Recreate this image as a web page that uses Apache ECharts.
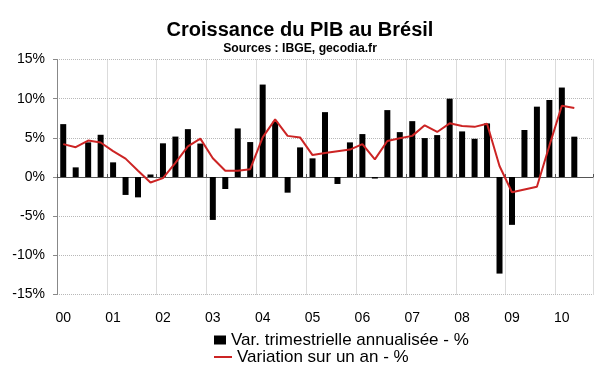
<!DOCTYPE html>
<html>
<head>
<meta charset="utf-8">
<script src="https://cdn.jsdelivr.net/npm/echarts@6/dist/echarts.min.js"></script>
<style>html,body{margin:0;padding:0;background:#fff;}#c{width:600px;height:372px;}</style>
</head>
<body>
<div id="c"></div>
<script>
// Quarterly categories, 2000 T1 .. 2010 T3 (last slot empty)
var categories = [];
for (var y = 0; y <= 10; y++) {
  for (var q = 1; q <= 4; q++) {
    if (y === 10 && q === 4) break;
    categories.push((y < 10 ? '0' : '') + y + ' T' + q);
  }
}
var yearLabels = ['00','01','02','03','04','05','06','07','08','09','10'];

// Var. trimestrielle annualisée - %
var quarterlyAnnualized = [
  6.75, 1.23, 4.42, 5.39, 1.87, -2.29, -2.6, 0.32,
  4.3, 5.16, 6.11, 4.27, -5.48, -1.53, 6.2, 4.46,
  11.8, 7.05, -2.0, 3.78, 2.38, 8.28, -0.89, 4.42,
  5.48, -0.2, 8.54, 5.73, 7.13, 4.97, 5.35, 10.0,
  5.82, 4.88, 6.84, -12.33, -6.11, 6.0, 8.98, 9.83,
  11.42, 5.15, null
];
// Variation sur un an - %
var yearOnYear = [
  4.2, 3.8, 4.65, 4.4, 3.3, 2.35, 0.8, -0.7,
  -0.15, 1.8, 3.9, 4.9, 2.4, 0.8, 0.8, 1.0,
  5.05, 7.35, 5.25, 5.05, 2.8, 3.05, 3.3, 3.5,
  4.2, 2.25, 4.6, 4.95, 5.25, 6.6, 5.75, 6.85,
  6.5, 6.4, 6.8, 1.4, -1.95, -1.6, -1.25, 4.0,
  9.1, 8.8, null
];
var yTicks = [-15, -10, -5, 0, 5, 10, 15];

var FONT = '"Liberation Sans", Arial, sans-serif';
var chart = echarts.init(document.getElementById('c'));
chart.setOption({
  backgroundColor: '#fff',
  animation: false,
  textStyle: { fontFamily: FONT },
  title: [
    { text: 'Croissance du PIB au Brésil', left: 'center', top: 15,
      textStyle: { fontFamily: FONT, fontSize: 20, fontWeight: 'bold', color: '#000' } },
    { text: 'Sources : IBGE, gecodia.fr', left: 'center', top: 38,
      textStyle: { fontFamily: FONT, fontSize: 12.2, fontWeight: 'bold', color: '#000' } }
  ],
  legend: [
    { data: [{ name: 'Var. trimestrielle annualisée - %', icon: 'rect' }],
      left: 214, top: 331.5, itemWidth: 12, itemHeight: 9, padding: 0,
      textStyle: { fontFamily: FONT, fontSize: 17, color: '#000' } },
    { data: [{ name: 'Variation sur un an - %', icon: 'rect' }],
      left: 214, top: 348.5, itemWidth: 18, itemHeight: 2, padding: 0,
      textStyle: { fontFamily: FONT, fontSize: 17, color: '#000' } }
  ],
  grid: { left: 57, right: 7, top: 59.5, bottom: 77.5, containLabel: false },
  xAxis: [
    { type: 'category', data: categories, boundaryGap: true, position: 'bottom',
      axisLine: { show: false, onZero: false },
      axisTick: { show: false },
      axisLabel: { interval: 3, margin: 17, fontSize: 14, color: '#000', fontFamily: FONT,
        formatter: function (v, i) { return yearLabels[Math.floor(i / 4)]; } },
      splitLine: { show: true, interval: 3, lineStyle: { color: '#b8b8b8', type: 'dotted', width: 1 } } },
    { type: 'category', data: categories, boundaryGap: true, position: 'top',
      axisLine: { show: true, onZero: true, lineStyle: { color: '#555', width: 1 } },
      axisTick: { show: true, interval: 3, length: 3, inside: false, lineStyle: { color: '#555' } },
      axisLabel: { show: false },
      splitLine: { show: false } }
  ],
  yAxis: {
    type: 'value', min: -15, max: 15, interval: 5,
    axisLine: { show: true, lineStyle: { color: '#888' } },
    axisTick: { show: true, length: 4, lineStyle: { color: '#888' } },
    axisLabel: { formatter: '{value}%', fontSize: 14, color: '#000', margin: 12, fontFamily: FONT },
    splitLine: { show: true, lineStyle: { color: '#b8b8b8', type: 'dotted', width: 1 } }
  },
  series: [
    { name: 'Var. trimestrielle annualisée - %', type: 'bar', xAxisIndex: 0,
      data: quarterlyAnnualized, barWidth: 6, itemStyle: { color: '#000' } },
    { name: 'Variation sur un an - %', type: 'line', xAxisIndex: 0,
      data: yearOnYear, symbol: 'none', showSymbol: false, smooth: false,
      lineStyle: { color: '#cc2424', width: 2 }, itemStyle: { color: '#cc2424' } }
  ]
});
</script>
</body>
</html>
